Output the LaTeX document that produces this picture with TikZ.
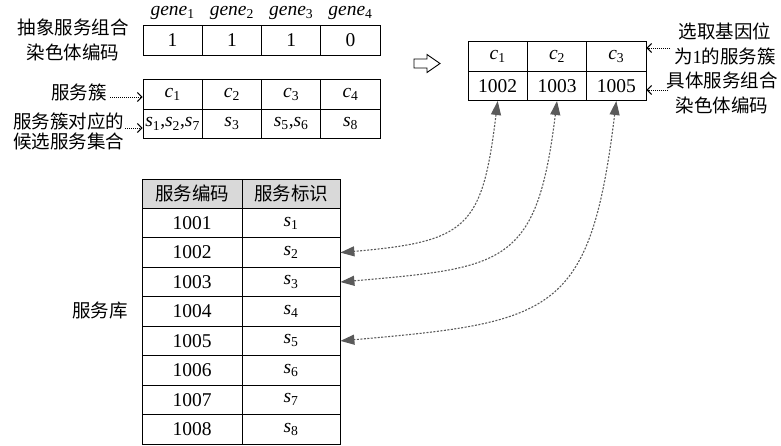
\documentclass[tikz,border=0pt]{standalone}
\usepackage{fontspec}
\setmainfont{Liberation Serif}
\newfontfamily\cjk{Noto Sans CJK SC}
\usetikzlibrary{arrows.meta}
\definecolor{linkgray}{HTML}{5A5A5A}
\definecolor{headgray}{HTML}{D9D9D9}
\newcommand{\bigsize}{\fontsize{18.5}{25}\selectfont}
\newcommand{\numsize}{\fontsize{19.5}{25}\selectfont}
\newcommand{\vs}[2]{\textit{#1}\textsubscript{#2}}
\tikzset{
  cell/.style={draw, line width=.8pt, inner sep=0pt, minimum height=29.4pt, minimum width=59.3pt},
  note/.style={font=\cjk\bigsize, align=center, inner sep=0pt},
  pointer/.style={densely dotted, line width=1pt, -{Straight Barb[length=4.5pt,width=9pt]}},
  link/.style={draw=linkgray, line width=1.1pt, dash pattern=on 2pt off 1.5pt,
    {Triangle[length=14pt,width=10pt]}-{Triangle[length=14pt,width=10pt]}}
}
\begin{document}
\begin{tikzpicture}[x=1pt,y=1pt,every node/.append style={font=\numsize}]
\useasboundingbox (0,0) rectangle (781,-445);
% Abstract chromosome with its gene labels
\foreach \v [count=\i] in {1,1,1,0} {
  \node[cell] (g\i) at ({172.6+59.3*(\i-1)},-40.5) {\v};
  \node (gl\i) at ({172.6+59.3*(\i-1)},-13) {\vs{gene}{\i}};
}
\node[note] (abslab) at (73,-40) {抽象服务组合\\染色体编码};
% Clusters and their candidate services
\foreach \s [count=\i] in {{\vs{s}{1},\vs{s}{2},\vs{s}{7}},{\vs{s}{3}},{\vs{s}{5},\vs{s}{6}},{\vs{s}{8}}} {
  \node[cell] (cc\i) at ({172.6+59.3*(\i-1)},-94.5) {\vs{c}{\i}};
  \node[cell] (cs\i) at ({172.6+59.3*(\i-1)},-123.9) {\s};
}
\node[note, anchor=east] (clulab) at (107,-92) {服务簇};
\coordinate (pc) at (110,-97);
\draw[pointer] (pc) -- (pc -| cc1.west);
\node[note] (candlab) at (68.5,-131) {服务簇对应的\\[-5pt]候选服务集合};
\coordinate (pd) at (125,-128);
\draw[pointer] (pd) -- (pd -| cs1.west);
% Hollow arrow
\draw[line width=.9pt] (414,-59) -- (427,-59) -- (427,-54.5) -- (440,-63.5)
  -- (427,-72.5) -- (427,-68) -- (414,-68) -- cycle;
% Concrete chromosome
\foreach \k [count=\i] in {1002,1003,1005} {
  \node[cell] (r\i) at ({497.7+59.3*(\i-1)},-56.5) {\vs{c}{\i}};
  \node[cell] (k\i) at ({497.7+59.3*(\i-1)},-85.9) {\k};
}
\node[note] (sellab) at (725,-44) {选取基因位\\为\textrm{1}的服务簇};
\node[note] (conlab) at (722,-93) {具体服务组合\\染色体编码};
\coordinate (pa) at (670,-48);
\draw[pointer] (pa) -- (pa -| r3.east);
\coordinate (pb) at (668,-90);
\draw[pointer] (pb) -- (pb -| k3.east);
% Service library
\node[cell, fill=headgray, minimum width=100pt, font=\cjk\bigsize] (lc0) at (192,-193.7) {服务编码};
\node[cell, fill=headgray, minimum width=98pt, font=\cjk\bigsize] (ls0) at (291,-193.7) {服务标识};
\foreach \i in {1,...,8} {
  \node[cell, minimum width=100pt] (lc\i) at (192,{-193.7-29.44*\i}) {100\i};
  \node[cell, minimum width=98pt] (ls\i) at (291,{-193.7-29.44*\i}) {\vs{s}{\i}};
}
\node[note] (liblab) at (100,-310) {服务库};
% Links from chosen services to the library
\foreach \i/\j in {1/2,2/3,3/5}
  \draw[link] (k\i.south) to[out=-97,in=5,looseness=1.5] (ls\j.east);
\end{tikzpicture}
\end{document}
